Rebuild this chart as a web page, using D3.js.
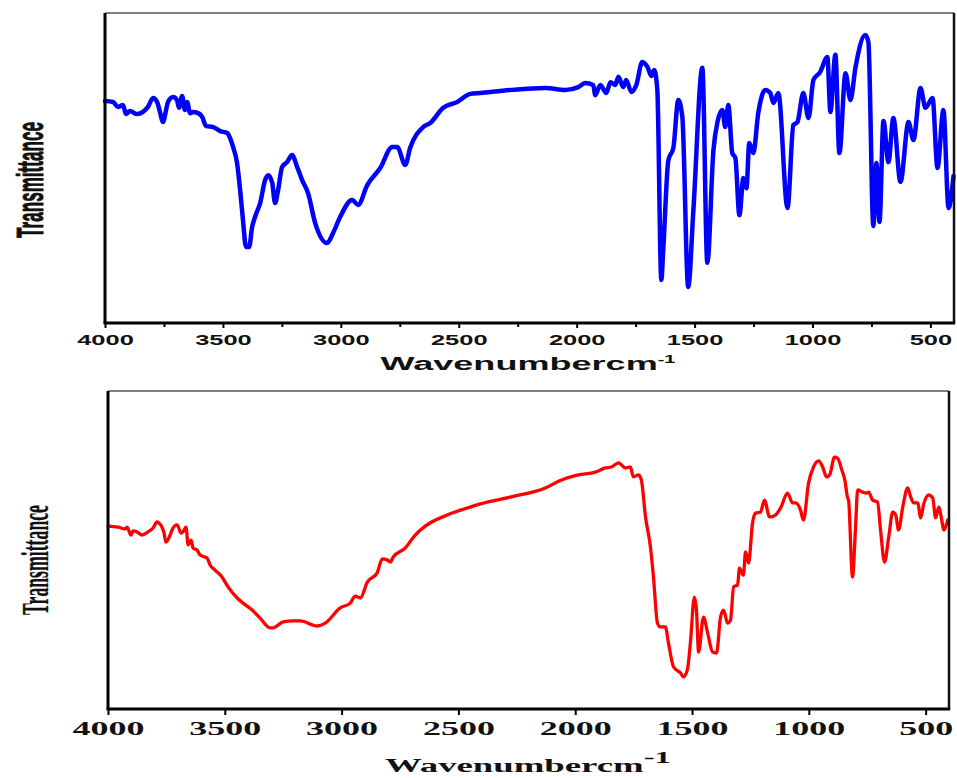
<!DOCTYPE html>
<html>
<head>
<meta charset="utf-8">
<script src="https://cdn.jsdelivr.net/npm/d3@7"></script>
<style>
  body { margin: 0; background: #fff; }
  svg { display: block; }
</style>
</head>
<body>
<div id="chart"></div>
<script>
// FTIR spectra, values (transmittance in arbitrary 0-100 units)
const topWavenumber = [4000,3966,3945,3924,3911,3894,3864,3839,3818,3796,
  3779,3767,3754,3741,3733,3711,3695,3686,3673,3661,
  3652,3639,3627,3605,3588,3571,3542,3512,3482,3470,
  3457,3440,3427,3415,3402,3389,3376,3364,3342,3321,
  3308,3291,3279,3266,3249,3228,3207,3185,3164,3139,
  3109,3058,3033,3003,2952,2927,2888,2833,2782,2761,
  2727,2706,2651,2621,2566,2507,2451,2409,2277,2133,
  2048,1993,1964,1930,1921,1900,1874,1857,1836,1823,
  1802,1790,1768,1747,1722,1700,1683,1671,1658,1641,
  1633,1611,1590,1569,1552,1527,1505,1467,1446,1420,
  1403,1382,1370,1357,1340,1327,1310,1293,1280,1268,
  1251,1230,1200,1179,1166,1145,1106,1081,1064,1039,
  1017,996,967,937,924,903,886,860,839,818,
  776,763,742,729,716,699,678,657,627,593,
  572,542,521,491,470,445,423,402];
const topTransmittance = [71.6,71.3,69.7,70.3,67.4,68.4,67.4,68.1,69.7,72.6,
  71.3,68.1,64.8,68.7,71.3,72.9,71.9,69.4,73.2,68.7,
  71.3,67.7,68.1,67.7,66.5,63.5,63.2,61.9,61.3,59.7,
  56.8,51.6,42.9,33.2,24.5,24.5,31.0,34.2,38.7,46.1,
  47.7,45.2,38.7,42.9,50.3,51.9,54.2,50.3,46.1,41.9,
  32.3,25.8,29.0,34.2,39.7,38.1,44.5,50.0,56.8,56.8,
  51.0,56.5,63.2,64.5,69.4,71.3,73.9,74.2,75.2,75.8,
  75.2,76.1,77.4,76.8,73.5,76.8,74.2,77.7,76.8,79.4,
  76.1,78.4,74.5,76.8,84.2,82.6,79.7,81.6,75.2,13.9,
  23.5,52.6,56.5,71.9,66.5,11.6,36.5,82.3,19.4,55.8,
  64.8,68.7,63.2,70.3,54.8,53.2,34.8,46.8,43.5,58.1,
  54.8,67.7,75.2,74.2,71.0,74.2,37.1,63.9,64.8,74.2,
  66.1,78.4,81.0,85.8,68.1,86.5,54.8,80.6,71.9,82.3,
  92.9,90.6,31.3,51.6,32.6,65.2,51.9,66.1,45.5,64.8,
  59.0,75.8,69.4,72.6,50.0,68.7,37.1,47.4];

const bottomWavenumber = [4000,3957,3927,3919,3901,3893,3876,3854,3829,3807,
  3790,3782,3769,3760,3752,3734,3722,3704,3687,3679,
  3666,3657,3644,3636,3619,3606,3576,3563,3542,3512,
  3486,3447,3422,3383,3349,3306,3293,3250,3207,3177,
  3105,3070,3006,2963,2942,2920,2890,2848,2826,2805,
  2792,2779,2728,2685,2642,2548,2462,2406,2274,2128,
  2059,1987,1914,1871,1845,1815,1785,1764,1751,1729,
  1717,1699,1678,1665,1648,1635,1614,1601,1579,1549,
  1537,1520,1507,1490,1481,1472,1451,1434,1412,1395,
  1378,1365,1348,1335,1322,1305,1297,1280,1271,1258,
  1241,1228,1207,1190,1168,1143,1121,1091,1070,1057,
  1036,1023,1001,980,958,941,924,911,890,877,
  859,846,834,830,813,800,791,770,753,744,
  727,706,693,676,658,641,628,616,598,577,
  564,551,534,521,509,487,470,457,444,431,
  423,406];
const bottomTransmittance = [57.5,57.2,56.6,57.2,54.7,56.0,55.7,54.7,55.7,56.9,
  58.8,58.5,57.2,55.3,52.5,54.7,56.9,57.9,55.3,55.7,
  57.2,51.6,53.1,50.6,50.0,48.4,47.5,45.3,43.7,41.5,
  38.4,34.9,33.3,31.1,28.6,25.5,25.5,27.4,27.7,27.7,
  26.1,27.0,31.8,33.3,35.5,34.9,39.9,42.8,47.2,46.9,
  46.2,47.8,50.6,54.7,57.5,61.0,63.2,64.5,66.7,69.5,
  72.0,73.6,74.5,75.8,76.1,77.4,75.8,76.1,73.0,73.6,
  72.0,60.4,50.9,41.5,27.0,25.8,25.8,20.8,13.2,11.3,
  10.1,12.3,20.8,35.2,31.1,17.9,28.9,24.2,17.9,17.6,
  28.9,31.1,27.0,28.0,38.4,39.0,44.3,42.1,49.4,45.9,
  58.5,61.6,61.9,65.7,60.4,61.0,63.2,67.9,64.8,64.8,
  62.6,59.4,71.1,76.1,78.0,76.1,73.0,73.6,79.2,78.9,
  75.2,72.0,66.4,65.7,41.5,57.2,68.9,68.2,67.9,68.2,
  65.7,65.1,56.3,46.2,54.1,61.9,61.0,56.3,63.5,69.5,
  66.7,64.8,64.8,60.1,64.2,67.3,66.4,60.1,63.5,59.4,
  56.3,59.4];

const majorTicks = [4000, 3500, 3000, 2500, 2000, 1500, 1000, 500];
const minorTicks = [3750, 3250, 2750, 2250, 1750, 1250, 750];
const yTitle = "Transmittance";
const xTitle = "Wavenumbercm";
const xTitleSup = "-1";

const svg = d3.select("#chart")
  .append("svg")
    .attr("width", 957)
    .attr("height", 778);

// panel layouts (pixel boxes taken from the figure)
const panels = [
  {
    wn: topWavenumber, t: topTransmittance,
    left: 105, right: 954, top: 13, bottom: 323,
    color: "#0000ff", lw: 4.5,
    font: "'Liberation Sans', Arial, sans-serif",
    tickSize: 5, tickPad: 7, tickFont: 14, tick4000: 57, minor: minorTicks,
    yt: {x: 43, y: 180, size: 37, w: 116, extra: 0.9},
    xt: {x: 528, y: 370, size: 18, w: 296, sup: 10, shift: 7}
  },
  {
    wn: bottomWavenumber, t: bottomTransmittance,
    left: 108, right: 949, top: 391, bottom: 709,
    color: "#ff0000", lw: 3.3,
    font: "'Liberation Serif', 'Times New Roman', serif",
    tickSize: 6, tickPad: 7, tickFont: 18, tick4000: 72, minor: [],
    yt: {x: 48, y: 560, size: 38, w: 110, extra: 0.3},
    xt: {x: 528, y: 772, size: 18, w: 286, sup: 16, shift: 9}
  }
];

panels.forEach(p => {
  const g = svg.append("g");

  const x = d3.scaleLinear().domain([4000, 400]).range([p.left, p.right]);
  const y = d3.scaleLinear().domain([0, 100]).range([p.bottom, p.top]);

  // minor ticks first so major ones sit on top
  if (p.minor.length) {
    const gm = g.append("g")
      .attr("transform", `translate(0,${p.bottom})`)
      .call(d3.axisBottom(x).tickValues(p.minor).tickSize(4).tickFormat(""));
    gm.select(".domain").remove();
    gm.selectAll("line").attr("stroke", "#000").attr("stroke-width", 2);
  }

  const gx = g.append("g")
    .attr("transform", `translate(0,${p.bottom})`)
    .call(d3.axisBottom(x).tickValues(majorTicks).tickSize(p.tickSize)
      .tickPadding(p.tickPad).tickFormat(d3.format("d")));
  gx.select(".domain").remove();
  gx.selectAll("line").attr("stroke", "#000").attr("stroke-width", 2);
  const labels = gx.selectAll("text")
    .attr("font-family", p.font)
    .attr("font-size", p.tickFont)
    .attr("font-weight", "bold")
    .attr("fill", "#111");
  const w4000 = labels.filter(d => d === 4000).node().getBBox().width;
  labels.attr("transform", `scale(${p.tick4000 / w4000},1)`);

  // spectrum
  const line = d3.line()
    .x(d => x(d[0]))
    .y(d => y(d[1]))
    .curve(d3.curveMonotoneX);
  g.append("path")
    .datum(d3.zip(p.wn, p.t))
    .attr("fill", "none")
    .attr("stroke", p.color)
    .attr("stroke-width", p.lw)
    .attr("stroke-linejoin", "round")
    .attr("stroke-linecap", "round")
    .attr("d", line);

  // frame
  g.append("line").attr("x1", p.left).attr("x2", p.right).attr("y1", p.top).attr("y2", p.top)
    .attr("stroke", "#555").attr("stroke-width", 1.6);
  g.append("line").attr("x1", p.right).attr("x2", p.right).attr("y1", p.top).attr("y2", p.bottom)
    .attr("stroke", "#111").attr("stroke-width", 2.5);
  g.append("line").attr("x1", p.left).attr("x2", p.left).attr("y1", p.top).attr("y2", p.bottom)
    .attr("stroke", "#000").attr("stroke-width", 3);
  g.append("line").attr("x1", p.left - 1.5).attr("x2", p.right + 1.2).attr("y1", p.bottom).attr("y2", p.bottom)
    .attr("stroke", "#000").attr("stroke-width", 3);

  // y title, squeezed like the original
  const yt = g.append("text")
    .attr("font-family", p.font)
    .attr("font-size", p.yt.size)
    .attr("font-weight", "bold")
    .attr("text-anchor", "middle")
    .attr("fill", "#111")
    .attr("stroke", "#111")
    .attr("stroke-width", p.yt.extra)
    .text(yTitle);
  const yw = yt.node().getBBox().width;
  yt.attr("transform", `translate(${p.yt.x},${p.yt.y}) rotate(-90) scale(${p.yt.w / yw},1)`);

  // x title, stretched
  const xt = g.append("text")
    .attr("font-family", p.font)
    .attr("font-size", p.xt.size)
    .attr("font-weight", "bold")
    .attr("text-anchor", "middle")
    .attr("fill", "#111");
  xt.append("tspan").text(xTitle);
  xt.append("tspan")
    .attr("font-size", p.xt.sup)
    .attr("dy", -p.xt.shift)
    .text(xTitleSup);
  const xw = xt.node().getBBox().width;
  xt.attr("transform", `translate(${p.xt.x},${p.xt.y}) scale(${p.xt.w / xw},1)`);
});
</script>
</body>
</html>
